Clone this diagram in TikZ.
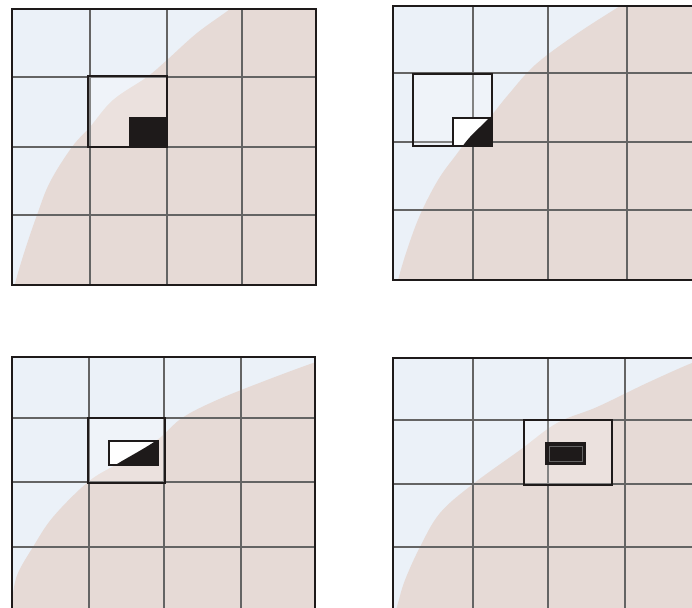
\documentclass[tikz,border=0pt]{standalone}
\usetikzlibrary{calc}
\definecolor{bluec}{RGB}{235,241,248}
\definecolor{pinkc}{RGB}{230,218,214}
\definecolor{gridc}{RGB}{100,100,100}
\definecolor{inkc}{RGB}{30,26,26}
\tikzset{
  framebox/.style={draw=inkc,line width=2.4pt},
  gridline/.style={draw=gridc,line width=1.1pt},
  lensbox/.style={draw=inkc,line width=1.9pt,fill=white,fill opacity=0.2,draw opacity=1},
  smallbox/.style={draw=inkc,line width=1.4pt},
}
\def\pinkA{plot[smooth,tension=0.6] coordinates {(238,0) (230,9) (197,33) (167,60) (147,77) (113,100) (90,127) (72,147) (50,182) (37,215) (25,250) (16,280) (13,295)} -- (330,295) -- (330,0) -- cycle}
\def\pinkB{plot[smooth,tension=0.6] coordinates {(630,0) (620,6) (575,35) (535,65) (508,95) (490,117) (470,137) (456,155) (438,180) (420,215) (407,250) (398,280) (396,290)} -- (710,290) -- (710,0) -- cycle}
\def\pinkC{plot[smooth,tension=0.6] coordinates {(330,358) (313,363) (267,380) (217,400) (182,418) (157,440) (117,464) (88,482) (53,517) (33,547) (18,573) (13,593) (11,610)} -- (330,610) -- cycle}
\def\pinkD{plot[smooth,tension=0.6] coordinates {(710,358) (692,363) (647,383) (597,407) (557,423) (520,450) (473,484) (440,513) (420,547) (405,580) (398,603) (396,610)} -- (710,610) -- cycle}
\begin{document}
\begin{tikzpicture}[x=1pt,y=-1pt]
\useasboundingbox (0,0) rectangle (692,607);
\fill[white] (0,0) rectangle (692,607);
\clip (0,0) rectangle (692,607);
% ---------- panel 1 ----------
\begin{scope}
  \clip (12,9) rectangle (316,285);
  \fill[bluec] (12,9) rectangle (316,285);
  \fill[pinkc] \pinkA;
\end{scope}
\foreach \x in {90,167,242} \draw[gridline] (\x,9) -- (\x,285);
\foreach \y in {77,147,215} \draw[gridline] (12,\y) -- (316,\y);
\draw[lensbox] (88,76) rectangle (167,147);
\fill[inkc] (129,117) rectangle (167,147);
\draw[framebox] (12,9) rectangle (316,285);
% ---------- panel 2 ----------
\begin{scope}
  \clip (393,6) rectangle (703,280);
  \fill[bluec] (393,6) rectangle (703,280);
  \fill[pinkc] \pinkB;
\end{scope}
\foreach \x in {473,548,627} \draw[gridline] (\x,6) -- (\x,280);
\foreach \y in {73,142,210} \draw[gridline] (393,\y) -- (703,\y);
\draw[lensbox] (413,74) rectangle (492,146);
\fill[white] (453,118) rectangle (492,146);
\begin{scope}
  \clip (453,118) rectangle (492,146);
  \fill[inkc] \pinkB;
\end{scope}
\draw[smallbox] (453,118) rectangle (492,146);
\draw[framebox] (393,6) rectangle (703,280);
% ---------- panel 3 ----------
\begin{scope}
  \clip (12,357) rectangle (315,612);
  \fill[bluec] (12,357) rectangle (315,612);
  \fill[pinkc] \pinkC;
\end{scope}
\foreach \x in {89,164,241} \draw[gridline] (\x,357) -- (\x,612);
\foreach \y in {418,482,547} \draw[gridline] (12,\y) -- (315,\y);
\draw[lensbox] (88,418) rectangle (165,483);
\fill[white] (109,441) rectangle (158,465);
\begin{scope}
  \clip (109,441) rectangle (158,465);
  \fill[inkc] \pinkC;
\end{scope}
\draw[smallbox] (109,441) rectangle (158,465);
\draw[framebox] (12,357) rectangle (315,612);
% ---------- panel 4 ----------
\begin{scope}
  \clip (393,358) rectangle (703,612);
  \fill[bluec] (393,358) rectangle (703,612);
  \fill[pinkc] \pinkD;
\end{scope}
\foreach \x in {473,548,625} \draw[gridline] (\x,358) -- (\x,612);
\foreach \y in {420,484,547} \draw[gridline] (393,\y) -- (703,\y);
\draw[lensbox] (524,420) rectangle (612,485);
\fill[inkc] (546,443) rectangle (585,464);
\draw[gridc,line width=0.7pt] (549,446) rectangle (582,461);
\draw[smallbox] (546,443) rectangle (585,464);
\draw[framebox] (393,358) rectangle (703,612);
\end{tikzpicture}
\end{document}
